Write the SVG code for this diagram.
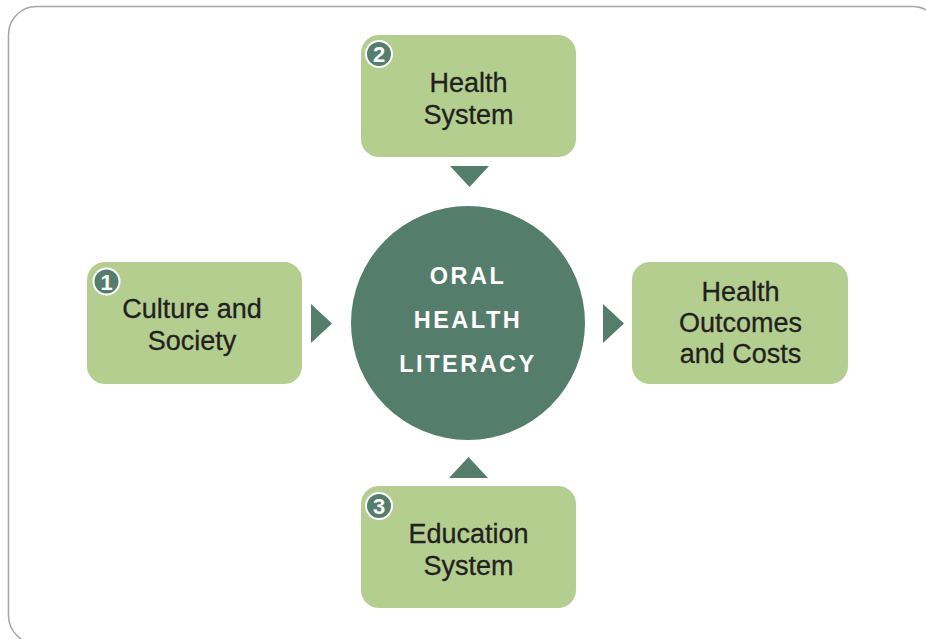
<svg xmlns="http://www.w3.org/2000/svg" width="926" height="639" viewBox="0 0 926 639">
<style>
.box{fill:#b4ce8f}
.lbl{font-family:"Liberation Sans",Arial,sans-serif;font-size:27px;fill:#231f20;text-anchor:middle;stroke:#231f20;stroke-width:0.3}
.badge{fill:#557d6b;stroke:#ffffff;stroke-width:2}
.num{font-family:"Liberation Sans",Arial,sans-serif;font-size:22px;font-weight:bold;fill:#ffffff;text-anchor:middle}
.arrow{fill:#557d6b}
.core{font-family:"Liberation Sans",Arial,sans-serif;font-size:23.5px;font-weight:bold;fill:#ffffff;text-anchor:middle;letter-spacing:2.5px}
</style>
<rect x="8.5" y="6.5" width="932" height="637" rx="28" ry="28" fill="#ffffff" stroke="#a6a6a6" stroke-width="1.5"/>
<g id="connectors">
<polygon class="arrow" points="311,304 332,323.5 311,343"/>
<polygon class="arrow" points="603,304 624,323.5 603,343"/>
<polygon class="arrow" points="450,166 489,166 469.5,187"/>
<polygon class="arrow" points="449,478 488,478 468.5,457"/>
</g>
<g id="culture">
<rect class="box" x="87" y="262" width="215" height="122" rx="18"/>
<circle class="badge" cx="106.5" cy="281.5" r="13"/>
<text class="num" x="106.5" y="289.5">1</text>
<text class="lbl" x="192" y="318">Culture and</text>
<text class="lbl" x="192" y="350">Society</text>
</g>
<g id="health-system">
<rect class="box" x="361" y="35" width="215" height="122" rx="18"/>
<circle class="badge" cx="379" cy="54" r="13"/>
<text class="num" x="379" y="62">2</text>
<text class="lbl" x="468.5" y="92">Health</text>
<text class="lbl" x="468.5" y="124">System</text>
</g>
<g id="outcomes">
<rect class="box" x="632" y="262" width="216" height="122" rx="18"/>
<text class="lbl" x="740.5" y="301">Health</text>
<text class="lbl" x="740.5" y="332">Outcomes</text>
<text class="lbl" x="740.5" y="363">and Costs</text>
</g>
<g id="education">
<rect class="box" x="361" y="486" width="215" height="122" rx="18"/>
<circle class="badge" cx="379" cy="506" r="13"/>
<text class="num" x="379" y="514">3</text>
<text class="lbl" x="468.5" y="543">Education</text>
<text class="lbl" x="468.5" y="575">System</text>
</g>
<g id="oral-health-literacy">
<circle cx="468" cy="323" r="117" fill="#557d6b"/>
<text class="core" x="468" y="283.5">ORAL</text>
<text class="core" x="468" y="328">HEALTH</text>
<text class="core" x="468" y="371.5">LITERACY</text>
</g>
</svg>
